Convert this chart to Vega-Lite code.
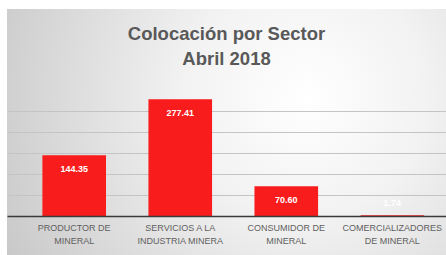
{
  "$schema": "https://vega.github.io/schema/vega-lite/v6.json",
  "width": 439,
  "height": 246,
  "autosize": {"type": "none"},
  "padding": {"left": 7, "top": 9, "right": 0, "bottom": 0},
  "background": "#ffffff",
  "title": {
    "text": ["Colocación por Sector", "Abril 2018"],
    "font": "Liberation Sans",
    "fontSize": 18.5,
    "fontWeight": "bold",
    "color": "#595959",
    "lineHeight": 24.5,
    "anchor": "middle",
    "offset": -59
  },
  "config": {
    "view": {
      "stroke": null,
      "fill": {
        "gradient": "radial",
        "x1": 0.68, "y1": 0.42, "r1": 0,
        "x2": 0.68, "y2": 0.42, "r2": 0.8,
        "stops": [
          {"offset": 0, "color": "#ffffff"},
          {"offset": 0.35, "color": "#f2f2f2"},
          {"offset": 1, "color": "#c6c6c6"}
        ]
      }
    }
  },
  "data": {
    "values": [
      {"sector": "PRODUCTOR DE|MINERAL", "value": 144.35},
      {"sector": "SERVICIOS A LA|INDUSTRIA MINERA", "value": 277.41},
      {"sector": "CONSUMIDOR DE|MINERAL", "value": 70.60},
      {"sector": "COMERCIALIZADORES|DE MINERAL", "value": 1.74}
    ]
  },
  "encoding": {
    "x": {
      "field": "sector",
      "type": "nominal",
      "sort": null,
      "scale": {"paddingInner": 0.4, "paddingOuter": 0.27, "align": 0.618},
      "axis": {
        "title": null,
        "ticks": false,
        "labelAngle": 0,
        "labelExpr": "split(datum.label, '|')",
        "labelFont": "Liberation Sans",
        "labelFontSize": 9,
        "labelColor": "#5f5f5f",
        "labelLineHeight": 13.5,
        "labelPadding": 7,
        "labelOverlap": false,
        "labelBound": false,
        "labelFlush": false,
        "labelLimit": 0,
        "domainColor": "#3a3a3a",
        "domainWidth": 1.6,
        "offset": -39,
        "zindex": 1
      }
    },
    "y": {
      "field": "value",
      "type": "quantitative",
      "scale": {"domain": [-92.6, 491.4], "zero": false, "nice": false},
      "axis": {
        "title": null,
        "labels": false,
        "ticks": false,
        "domain": false,
        "grid": true,
        "values": [50, 100, 150, 200, 250],
        "gridColor": "#c4c4c4",
        "gridWidth": 1
      }
    }
  },
  "layer": [
    {
      "mark": {"type": "bar", "color": "#f81c1c"},
      "encoding": {"y2": {"datum": 0}}
    },
    {
      "transform": [{"filter": "datum.value >= 10"}],
      "mark": {"type": "text", "baseline": "middle", "dy": 14, "color": "#ffffff", "font": "Liberation Sans", "fontSize": 9, "fontWeight": "bold"},
      "encoding": {"text": {"field": "value", "type": "quantitative", "format": ".2f"}}
    },
    {
      "transform": [{"filter": "datum.value < 10"}],
      "mark": {"type": "text", "baseline": "middle", "dy": -12, "color": "#ffffff", "font": "Liberation Sans", "fontSize": 9, "fontWeight": "bold"},
      "encoding": {"text": {"field": "value", "type": "quantitative", "format": ".2f"}}
    }
  ]
}
